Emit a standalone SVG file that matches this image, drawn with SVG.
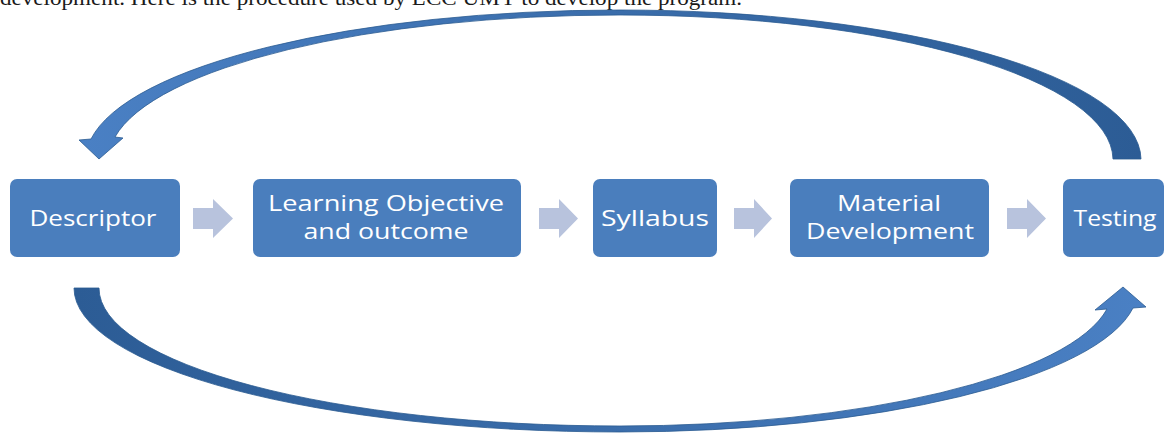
<svg xmlns="http://www.w3.org/2000/svg" width="1168" height="435" viewBox="0 0 1168 435">
  <defs>
    <linearGradient id="gTop" x1="1" y1="0" x2="0" y2="0">
      <stop offset="0" stop-color="#2c5c95"/>
      <stop offset="0.5" stop-color="#3a6dab"/>
      <stop offset="1" stop-color="#4a80c4"/>
    </linearGradient>
    <linearGradient id="gBot" x1="0" y1="0" x2="1" y2="0">
      <stop offset="0" stop-color="#2c5c95"/>
      <stop offset="0.5" stop-color="#3a6dab"/>
      <stop offset="1" stop-color="#4a80c4"/>
    </linearGradient>
    <style>
      .box { fill: #4a7ebd; }
      .lbl { fill: #ffffff; font-family: "Open Sans", "Liberation Sans", sans-serif; font-size: 22px; text-anchor: middle; }
      .step { fill: #b8c3dd; }
      .big { stroke: #2a5a90; stroke-width: 0.8; }
      .hdr { fill: #1a1a1a; font-family: "Liberation Serif", serif; font-size: 21px; }
    </style>
  </defs>

  <rect width="1168" height="435" fill="#ffffff"/>

  <text class="hdr" x="0" y="5" textLength="742" lengthAdjust="spacingAndGlyphs">development. Here is the procedure used by LCC UMY to develop the program.</text>

  <g id="connectors">
    <path id="loop-top" class="big" fill="url(#gTop)" d="M 1141 159 A 521 150 0 0 0 620 10 A 534 150 0 0 0 91 139 L 79 140 L 99 159 L 123 138 L 115 137 A 511 145 0 0 1 620 15 A 493 145 0 0 1 1113 159 Z"/>
    <path id="loop-bottom" class="big" fill="url(#gBot)" d="M 74 288 A 546 144 0 0 0 620 432 A 519 144 0 0 0 1133 308 L 1146 307 L 1123 287 L 1095 310 L 1107 309 A 493 138 0 0 1 620 426 A 521 138 0 0 1 99 288 Z"/>
    <polygon class="step" points="193,208 213,208 213,199 233,218.5 213,238 213,229 193,229"/>
    <polygon class="step" points="539,208 559,208 559,199 578,218.5 559,238 559,229 539,229"/>
    <polygon class="step" points="734,208 754,208 754,199 772,218.5 754,238 754,229 734,229"/>
    <polygon class="step" points="1007,208 1027,208 1027,199 1046,218.5 1027,238 1027,229 1007,229"/>
  </g>

  <g id="node-descriptor">
    <rect class="box" x="10" y="179" width="170" height="78" rx="7"/>
    <text class="lbl" x="93" y="226" textLength="127" lengthAdjust="spacingAndGlyphs">Descriptor</text>
  </g>
  <g id="node-learning">
    <rect class="box" x="253" y="179" width="268" height="78" rx="7"/>
    <text class="lbl" x="386" y="211" textLength="236" lengthAdjust="spacingAndGlyphs">Learning Objective</text>
    <text class="lbl" x="386" y="239" textLength="165" lengthAdjust="spacingAndGlyphs">and outcome</text>
  </g>
  <g id="node-syllabus">
    <rect class="box" x="593" y="179" width="124" height="78" rx="7"/>
    <text class="lbl" x="655" y="226" textLength="108" lengthAdjust="spacingAndGlyphs">Syllabus</text>
  </g>
  <g id="node-material">
    <rect class="box" x="790" y="179" width="199" height="78" rx="7"/>
    <text class="lbl" x="889" y="211" textLength="104" lengthAdjust="spacingAndGlyphs">Material</text>
    <text class="lbl" x="890" y="239" textLength="168" lengthAdjust="spacingAndGlyphs">Development</text>
  </g>
  <g id="node-testing">
    <rect class="box" x="1063" y="179" width="101" height="78" rx="7"/>
    <text class="lbl" x="1115" y="226" textLength="83" lengthAdjust="spacingAndGlyphs">Testing</text>
  </g>
</svg>
